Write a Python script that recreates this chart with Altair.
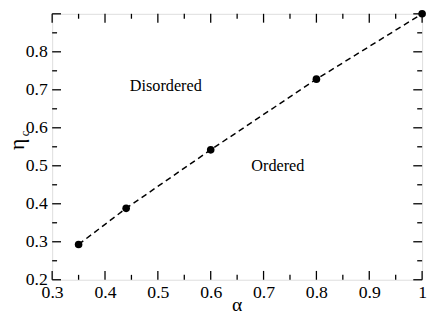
import altair as alt
import pandas as pd

# data
alpha = [0.35, 0.44, 0.60, 0.80, 1.00]
eta_c = [0.293, 0.388, 0.542, 0.728, 0.900]

x_major = [0.3, 0.4, 0.5, 0.6, 0.7, 0.8, 0.9, 1.0]
x_minor = [0.35, 0.45, 0.55, 0.65, 0.75, 0.85, 0.95]
y_major = [0.2, 0.3, 0.4, 0.5, 0.6, 0.7, 0.8, 0.9]
y_minor = [0.25, 0.35, 0.45, 0.55, 0.65, 0.75, 0.85]
y_labels = [0.2, 0.3, 0.4, 0.5, 0.6, 0.7, 0.8]

region_text = ["Disordered", "Ordered"]
region_x = [0.515, 0.727]
region_y = [0.711, 0.500]

FONT = "'Liberation Serif', 'Times New Roman', 'DejaVu Serif', serif"
W, H = 377, 271
MAJ, MIN = 9, 5

xs = alt.Scale(domain=[0.3, 1.0], nice=False, zero=False)
ys = alt.Scale(domain=[0.2, 0.9], nice=False, zero=False)

df = pd.DataFrame({"alpha": alpha, "eta": eta_c})

x_axis = alt.Axis(values=x_major, ticks=False, domain=False, grid=False,
                  labelFont=FONT, labelFontSize=18, labelColor="black",
                  labelPadding=4, labelFlush=False, labelOverlap=False,
                  labelExpr="datum.value == 1 ? '1' : format(datum.value, '.1f')",
                  title=None)
y_axis = alt.Axis(values=y_labels, ticks=False, domain=False, grid=False,
                  labelFont=FONT, labelFontSize=18, labelColor="black",
                  labelPadding=5, labelFlush=False, labelOverlap=False,
                  format=".1f", title=None)

X = lambda f: alt.X(f, scale=xs, axis=x_axis)
Y = lambda f: alt.Y(f, scale=ys, axis=y_axis)

line = alt.Chart(df).mark_line(color="black", strokeWidth=1.5, strokeDash=[6, 4]).encode(
    x=X("alpha:Q"), y=Y("eta:Q"))
points = alt.Chart(df).mark_circle(color="black", opacity=1, size=60).encode(
    x=X("alpha:Q"), y=Y("eta:Q"))

def xticks(vals, length):
    d = pd.DataFrame({"v": vals})
    bot = alt.Chart(d).mark_rule(color="black", strokeWidth=1.3).encode(
        x=X("v:Q"), y=alt.value(H), y2=alt.value(H - length))
    top = alt.Chart(d).mark_rule(color="black", strokeWidth=1.3).encode(
        x=X("v:Q"), y=alt.value(0), y2=alt.value(length))
    return [bot, top]

def yticks(vals, length):
    d = pd.DataFrame({"v": vals})
    left = alt.Chart(d).mark_rule(color="black", strokeWidth=1.3).encode(
        y=Y("v:Q"), x=alt.value(0), x2=alt.value(length))
    right = alt.Chart(d).mark_rule(color="black", strokeWidth=1.3).encode(
        y=Y("v:Q"), x=alt.value(W), x2=alt.value(W - length))
    return [left, right]

tick_layers = xticks(x_major, MAJ) + xticks(x_minor, MIN) + yticks(y_major, MAJ) + yticks(y_minor, MIN)

regions = alt.Chart(pd.DataFrame({"t": region_text, "x": region_x, "y": region_y})).mark_text(
    font=FONT, fontSize=16.5, color="black", align="center", baseline="middle").encode(
    x=X("x:Q"), y=Y("y:Q"), text="t:N")

title_x = alt.Chart(pd.DataFrame({"t": ["α"]})).mark_text(
    font=FONT, fontSize=20, color="black", align="center", baseline="middle").encode(
    x=alt.value(W / 2), y=alt.value(H + 26), text="t:N")
title_y = alt.Chart(pd.DataFrame({"t": ["η"]})).mark_text(
    font=FONT, fontSize=22, color="black", align="center", baseline="middle", angle=270).encode(
    x=alt.value(-36), y=alt.value(133), text="t:N")
title_y_sub = alt.Chart(pd.DataFrame({"t": ["c"]})).mark_text(
    font=FONT, fontSize=13, color="black", align="center", baseline="middle", angle=270).encode(
    x=alt.value(-28), y=alt.value(122), text="t:N")

chart = alt.layer(line, *tick_layers, points, regions, title_x, title_y, title_y_sub).properties(
    width=W, height=H,
    autosize=alt.AutoSizeParams(type="none"),
    padding={"left": 45, "top": 3, "right": 6, "bottom": 34},
).configure_view(stroke="black", strokeWidth=2).configure(
    background="white", font=FONT
).configure_axis(labelFont=FONT, labelFontSize=18, labelColor="black")

chart.save("out.html", embed_options={"renderer": "svg", "actions": False})
